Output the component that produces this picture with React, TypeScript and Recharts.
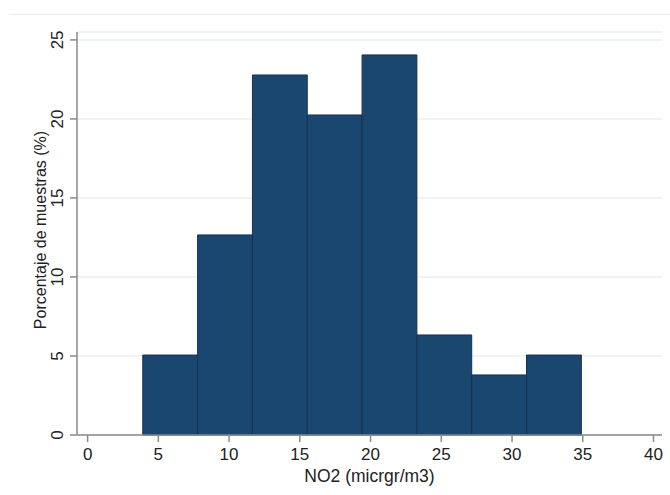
import React from 'react';
import {
  ComposedChart, XAxis, YAxis, CartesianGrid, ReferenceArea, Scatter, Label
} from 'recharts';

// histogram bins (NO2, micrgr/m3) and share of samples in each (%)
const binStarts = [3.9, 7.775, 11.65, 15.525, 19.4, 23.275, 27.15, 31.025];
const binEnds = [7.775, 11.65, 15.525, 19.4, 23.275, 27.15, 31.025, 34.9];
const percentages = [5.06, 12.66, 22.78, 20.25, 24.05, 6.33, 3.8, 5.06];

const xTicks = [0, 5, 10, 15, 20, 25, 30, 35, 40];
const yTicks = [0, 5, 10, 15, 20, 25];

const FONT = '"Liberation Sans", Arial, sans-serif';
const BAR_FILL = '#1a476f';
const BAR_EDGE = '#17304f';
const AXIS_COLOR = '#8a8a8a';

const data = binStarts.map((s, i) => ({
  mid: (s + binEnds[i]) / 2,
  pct: percentages[i],
}));

const YTick = (props: any) => {
  const { x, y, payload } = props;
  return (
    <text
      x={x - 5}
      y={y}
      transform={`rotate(-90 ${x - 5} ${y})`}
      textAnchor="middle"
      fontSize={17}
      fontFamily={FONT}
      fill="#222"
    >
      {payload.value}
    </text>
  );
};

const YTitle = () => (
  <text
    x={46}
    y={230}
    transform="rotate(-90 46 230)"
    textAnchor="middle"
    fontSize={16}
    fontFamily={FONT}
    fill="#222"
  >
    Porcentaje de muestras (%)
  </text>
);

const App = () => {
  return (
    <div style={{ position: 'absolute', left: 0, top: 0, width: 670, height: 495, background: '#fff' }}>
      <div style={{ position: 'absolute', left: 10, right: 0, top: 14, borderTop: '1px solid #e4ecec' }} />
      <ComposedChart
        width={670}
        height={495}
        data={data}
        margin={{ top: 32, right: 8, left: 0, bottom: 0 }}
        style={{ fontFamily: FONT }}
      >
        <CartesianGrid vertical={false} stroke="#e8f0f0" strokeWidth={1.5} />
        <XAxis
          type="number"
          dataKey="mid"
          domain={[-0.75, 40.6]}
          ticks={xTicks}
          allowDataOverflow
          height={60}
          stroke={AXIS_COLOR}
          strokeWidth={1.5}
          tickSize={7}
          tick={{ fontSize: 17, fill: '#222', fontFamily: FONT }}
          tickMargin={6}
        >
          <Label
            value="NO2 (micrgr/m3)"
            position="insideBottom"
            offset={13}
            style={{ fontSize: 17.5, fill: '#222', fontFamily: FONT }}
          />
        </XAxis>
        <YAxis
          type="number"
          domain={[0, 25.5]}
          ticks={yTicks}
          allowDataOverflow
          width={77}
          stroke={AXIS_COLOR}
          strokeWidth={1.5}
          tickSize={7}
          tick={<YTick />}
        >
          <Label content={<YTitle />} />
        </YAxis>
        {binStarts.map((s, i) => (
          <ReferenceArea
            key={i}
            x1={s}
            x2={binEnds[i]}
            y1={0}
            y2={percentages[i]}
            fill={BAR_FILL}
            fillOpacity={1}
            stroke={BAR_EDGE}
            strokeWidth={1}
            ifOverflow="visible"
          />
        ))}
        <Scatter dataKey="pct" fill="none" shape={() => <g />} isAnimationActive={false} />
      </ComposedChart>
    </div>
  );
};

export default App;
